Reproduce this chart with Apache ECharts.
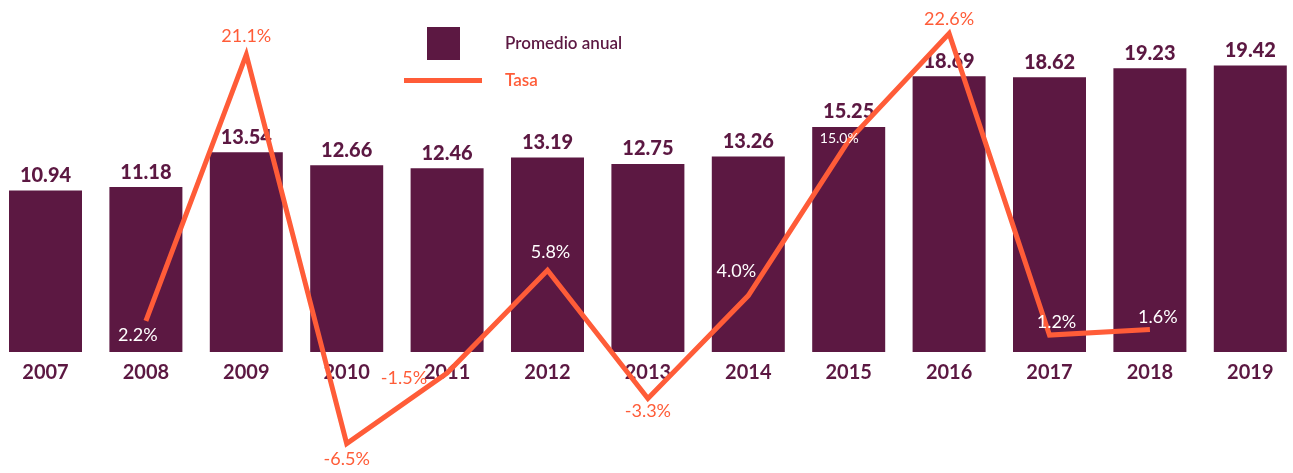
<!DOCTYPE html>
<html>
<head>
<meta charset="utf-8">
<script src="https://cdn.jsdelivr.net/npm/echarts@6/dist/echarts.min.js"></script>
<style>
  html, body { margin: 0; padding: 0; background: #fff; }
  #chart { width: 1293px; height: 473px; }
</style>
</head>
<body>
<div id="chart"></div>
<script>
// data
const years = ['2007', '2008', '2009', '2010', '2011', '2012', '2013', '2014', '2015', '2016', '2017', '2018', '2019'];
const promedio = [10.94, 11.18, 13.54, 12.66, 12.46, 13.19, 12.75, 13.26, 15.25, 18.69, 18.62, 19.23, 19.42];
const tasa = [null, 2.2, 21.1, -6.5, -1.5, 5.8, -3.3, 4.0, 15.0, 22.6, 1.2, 1.6, null];

const PURPLE = '#5c1842';
const ORANGE = '#ff5c38';
const FONT = 'Lato';

// label placement for each point of the line
const labelStyles = [
  null,
  { position: 'bottom', distance: 5, offset: [-8, 0], color: '#fff' },
  { position: 'top', distance: 9, color: ORANGE },
  { position: 'bottom', distance: 7, color: ORANGE },
  { position: 'left', distance: 8, offset: [-12, 5], color: ORANGE },
  { position: 'top', distance: 9, offset: [3, 0], color: '#fff' },
  { position: 'bottom', distance: 4, color: ORANGE },
  { position: 'top', distance: 15, offset: [-12, 0], color: '#fff' },
  { position: 'left', distance: -10, offset: [0, -2], color: '#fff', fontSize: 14 },
  { position: 'top', distance: 5, color: ORANGE },
  { position: 'top', distance: 4, offset: [7, 0], color: '#fff' },
  { position: 'top', distance: 3, offset: [8, 0], color: '#fff' },
  null
];

const tasaData = tasa.map((v, i) => {
  if (v === null) return null;
  const s = labelStyles[i];
  return { value: v, label: Object.assign({ show: true }, s) };
});

const chart = echarts.init(document.getElementById('chart'));
const gridLeft = -4.7;
const gridWidth = 1305.2;

chart.setOption({
  animation: false,
  textStyle: { fontFamily: FONT },
  grid: [
    { left: gridLeft, width: gridWidth, top: 0, height: 352, outerBoundsMode: 'none', containLabel: false },
    { left: gridLeft, width: gridWidth, top: 0, height: 473, outerBoundsMode: 'none', containLabel: false }
  ],
  legend: [
    {
      left: 427, top: 27, padding: 0,
      icon: 'rect', itemWidth: 33, itemHeight: 33,
      data: ['Promedio anual'],
      selectedMode: false,
      textStyle: { color: PURPLE, fontSize: 17, fontWeight: 600, fontFamily: FONT, padding: [0, 0, 0, 40] }
    },
    {
      left: 404, top: 72, padding: 0,
      icon: 'rect', itemWidth: 78, itemHeight: 5,
      data: ['Tasa'],
      selectedMode: false,
      textStyle: { color: ORANGE, fontSize: 17, fontWeight: 600, fontFamily: FONT, padding: [0, 0, 0, 18] }
    }
  ],
  xAxis: [
    {
      type: 'category', gridIndex: 0, data: years,
      axisLine: { show: false }, axisTick: { show: false },
      axisLabel: { color: PURPLE, fontSize: 20, fontWeight: 'bold', fontFamily: FONT, margin: 11 }
    },
    {
      type: 'category', gridIndex: 1, data: years, show: false
    }
  ],
  yAxis: [
    { type: 'value', gridIndex: 0, min: 0, max: 23.86, show: false, splitLine: { show: false } },
    { type: 'value', gridIndex: 1, min: -8.59, max: 24.98, show: false, splitLine: { show: false } }
  ],
  series: [
    {
      name: 'Promedio anual',
      type: 'bar',
      xAxisIndex: 0, yAxisIndex: 0,
      data: promedio,
      barWidth: 73,
      itemStyle: { color: PURPLE },
      label: {
        show: true, position: 'top', distance: 5,
        color: PURPLE, fontSize: 20, fontWeight: 900, fontFamily: FONT,
        formatter: p => p.value.toFixed(2)
      }
    },
    {
      name: 'Tasa',
      type: 'line',
      xAxisIndex: 1, yAxisIndex: 1,
      data: tasaData,
      symbol: 'circle',
      symbolSize: 0.01,
      showSymbol: true,
      lineStyle: { color: ORANGE, width: 5, join: 'miter' },
      itemStyle: { color: ORANGE },
      label: {
        show: true,
        fontSize: 18, fontFamily: FONT,
        formatter: p => p.value.toFixed(1) + '%'
      }
    }
  ]
});
</script>
</body>
</html>
